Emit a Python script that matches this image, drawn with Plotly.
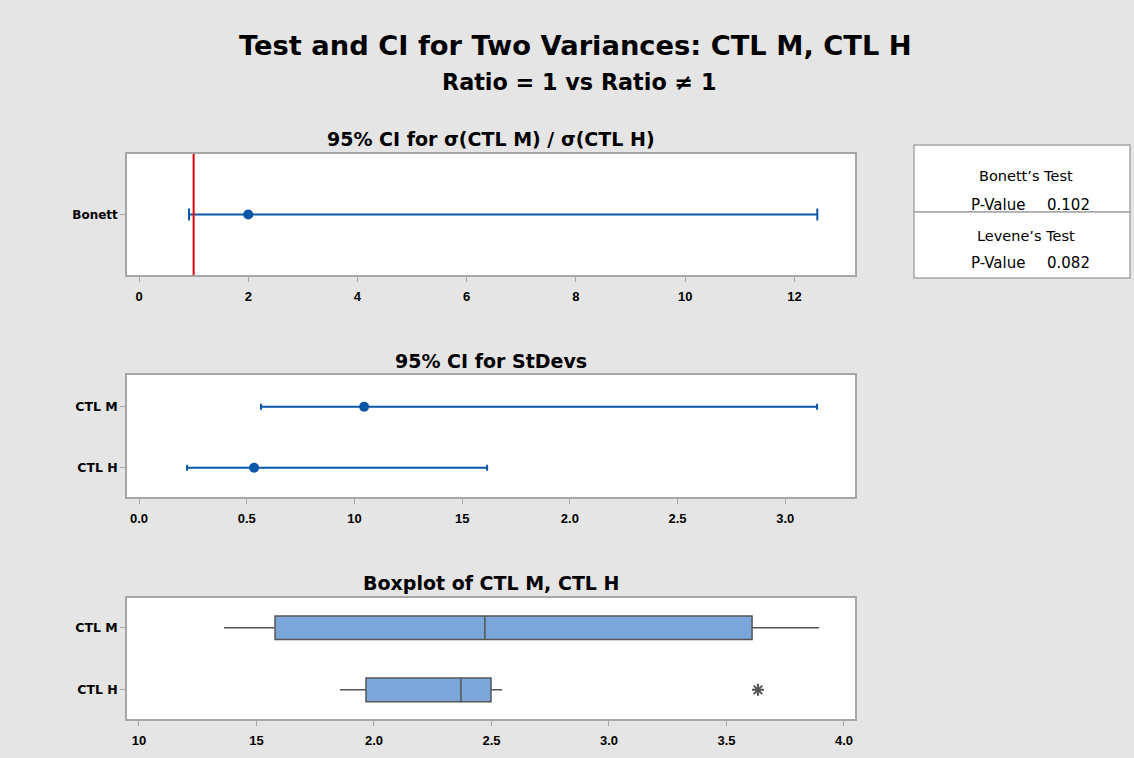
import plotly.graph_objects as go

# ---- data ----
ratio_label = ["Bonett"]
ratio_est = [2.0]
ratio_lo = [0.916]
ratio_hi = [12.42]
ratio_ref = 1.0

sd_labels = ["CTL M", "CTL H"]
sd_est = [1.045, 0.534]
sd_lo = [0.566, 0.223]
sd_hi = [3.148, 1.616]

box_labels = ["CTL M", "CTL H"]
box_low = [1.362, 1.855]
box_q1 = [1.579, 1.966]
box_med = [2.472, 2.37]
box_q3 = [3.609, 2.498]
box_high = [3.894, 2.545]
outlier_label = ["CTL H"]
outlier_val = [3.634]

x1_ticks = [0, 2, 4, 6, 8, 10, 12]
x1_text = ["0", "2", "4", "6", "8", "10", "12"]
x2_ticks = [0.0, 0.5, 1.0, 1.5, 2.0, 2.5, 3.0]
x2_text = ["0.0", "0.5", "10", "15", "2.0", "2.5", "3.0"]
x3_ticks = [1.0, 1.5, 2.0, 2.5, 3.0, 3.5, 4.0]
x3_text = ["10", "15", "2.0", "2.5", "3.0", "3.5", "4.0"]

tests = ["Bonett’s Test", "Levene’s Test"]
pvals = ["0.102", "0.082"]

BLUE = "#0a56a8"
BG = "#e5e5e5"
GRID = "#a6a6a6"
FONT = "Liberation Sans"
TFONT = "DejaVu Sans"

fig = go.Figure()

# panel 1
fig.add_trace(go.Scatter(
    x=ratio_est, y=ratio_label, mode="markers",
    marker=dict(color=BLUE, size=10),
    error_x=dict(type="data", symmetric=False,
                 array=[h - e for h, e in zip(ratio_hi, ratio_est)],
                 arrayminus=[e - l for e, l in zip(ratio_est, ratio_lo)],
                 color=BLUE, thickness=2, width=6),
    xaxis="x", yaxis="y", showlegend=False))

# panel 2
fig.add_trace(go.Scatter(
    x=sd_est, y=sd_labels, mode="markers",
    marker=dict(color=BLUE, size=10),
    error_x=dict(type="data", symmetric=False,
                 array=[h - e for h, e in zip(sd_hi, sd_est)],
                 arrayminus=[e - l for e, l in zip(sd_est, sd_lo)],
                 color=BLUE, thickness=2, width=3),
    xaxis="x2", yaxis="y2", showlegend=False))

# panel 3
fig.add_trace(go.Box(
    y=box_labels, q1=box_q1, median=box_med, q3=box_q3,
    lowerfence=box_low, upperfence=box_high, orientation="h",
    fillcolor="#7ba6da", line=dict(color="#555555", width=1.5),
    whiskerwidth=0, width=0.38, boxpoints=False,
    xaxis="x3", yaxis="y3", showlegend=False))
fig.add_trace(go.Scatter(
    x=outlier_val, y=outlier_label, mode="markers",
    marker=dict(symbol="asterisk-open", size=10, color="#555555",
                line=dict(color="#555555", width=2)),
    xaxis="x3", yaxis="y3", showlegend=False))

xdom = [127 / 1134, 855 / 1134]


def ydom(top, bot):
    return [1 - bot / 758, 1 - top / 758]


def yp(px):
    return 1 - px / 758


def xp(px):
    return px / 1134


axis_common = dict(showline=True, linecolor=GRID, linewidth=1.5, mirror=True,
                   showgrid=False, zeroline=False, ticks="outside",
                   tickcolor=GRID, ticklen=5, tickwidth=1)
xfont = dict(tickfont=dict(family=FONT, size=13, color="black", weight="bold"),
             ticklabelstandoff=4)
yfont = dict(tickfont=dict(family=TFONT, size=12.5, color="black", weight="bold"))

fig.update_layout(
    width=1134, height=758,
    margin=dict(l=0, r=0, t=0, b=0),
    paper_bgcolor=BG, plot_bgcolor="white",
    font=dict(family=FONT, color="black"),
    xaxis=dict(domain=xdom, anchor="y", range=[-0.22, 13.11],
               tickvals=x1_ticks, ticktext=x1_text, **axis_common, **xfont),
    yaxis=dict(domain=ydom(154, 275), anchor="x", type="category",
               range=[-1, 1], **axis_common,
               tickfont=dict(family=TFONT, size=12, color="black", weight="bold")),
    xaxis2=dict(domain=xdom, anchor="y2", range=[-0.056, 3.324],
                tickvals=x2_ticks, ticktext=x2_text, **axis_common, **xfont),
    yaxis2=dict(domain=ydom(375, 497), anchor="x2", type="category",
                categoryorder="array", categoryarray=["CTL H", "CTL M"],
                range=[-0.48, 1.52], **axis_common, **yfont),
    xaxis3=dict(domain=xdom, anchor="y3", range=[0.949, 4.047],
                tickvals=x3_ticks, ticktext=x3_text, **axis_common, **xfont),
    yaxis3=dict(domain=ydom(598, 719), anchor="x3", type="category",
                categoryorder="array", categoryarray=["CTL H", "CTL M"],
                range=[-0.47, 1.48], **axis_common, **yfont),
)

# reference line at ratio = 1
fig.add_shape(type="line", xref="x", yref="paper", x0=ratio_ref, x1=ratio_ref,
              y0=ydom(154, 275)[0], y1=ydom(154, 275)[1],
              line=dict(color="#e3000f", width=2))


def text(t, x, y, size, xanchor="center", family=TFONT):
    fig.add_annotation(text=t, x=xp(x), y=yp(y), xref="paper", yref="paper",
                       showarrow=False, xanchor=xanchor, yanchor="middle",
                       font=dict(size=size, family=family, color="black"))


# titles
text("<b>Test and CI for Two Variances: CTL M, CTL H</b>", 575, 45, 27.3)
text("<b>Ratio = 1 vs Ratio ≠ 1</b>", 579, 82, 22.3)
for t, yy in [("<b>95% CI for σ(CTL M) / σ(CTL H)</b>", 139),
              ("<b>95% CI for StDevs</b>", 361),
              ("<b>Boxplot of CTL M, CTL H</b>", 583)]:
    text(t, 491, yy, 19)

# test results table
box_x0, box_x1 = xp(914), xp(1130)
fig.add_shape(type="rect", xref="paper", yref="paper",
              x0=box_x0, x1=box_x1, y0=yp(212), y1=yp(145),
              line=dict(color=GRID, width=1.5), fillcolor="white", layer="below")
fig.add_shape(type="rect", xref="paper", yref="paper",
              x0=box_x0, x1=box_x1, y0=yp(278), y1=yp(212),
              line=dict(color=GRID, width=1.5), fillcolor="white", layer="below")
for i, (t, p) in enumerate(zip(tests, pvals)):
    y_t = 176 + i * 60
    y_p = 205 + i * 58
    text(t, 1026, y_t, 14.5)
    text("P-Value", 1027, y_p, 15, xanchor="right")
    text(p, 1045, y_p, 15, xanchor="left")

fig.write_html("out.html")
